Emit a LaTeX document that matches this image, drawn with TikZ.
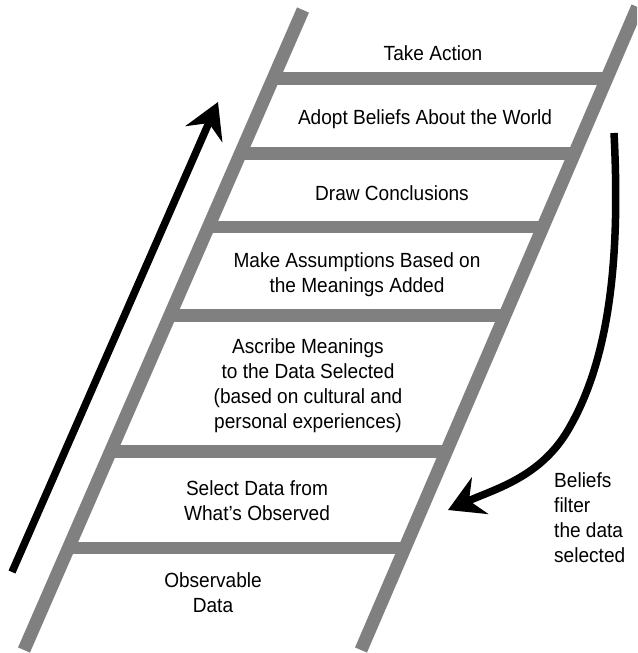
\documentclass[tikz,border=0pt]{standalone}
\usepackage{fontspec}
\newfontfamily\ladderfont{Liberation Sans}[FakeStretch=0.93]
\usetikzlibrary{arrows.meta, calc}

\definecolor{railgray}{RGB}{128,128,128}

\tikzset{
  rail/.style={draw=railgray, line width=13pt},
  rung/.style={draw=railgray, line width=12.5pt},
  step text/.style={font=\ladderfont\fontsize{20.5}{25}\selectfont, align=center, anchor=north, inner sep=0pt},
  climb/.style={line width=7.5pt, -{Stealth[length=35pt, width=40pt, inset=12pt]}}
}

\begin{document}
\begin{tikzpicture}[x=1pt, y=-1pt]
  \useasboundingbox (0,0) rectangle (637,653);
  \clip (0,0) rectangle (637,653);

  % ladder
  \coordinate (lb) at (24,650);
  \coordinate (lt) at (303,10);
  \coordinate (rb) at (361,650);
  \coordinate (rt) at (637.5,7);
  \foreach \y in {78.5,153.5,227,315.5,451.5,548}
    \draw[rung] ({24+0.436*(650-\y)},\y) -- ({361+0.43*(650-\y)},\y);
  \draw[rail] (lb) -- (lt);
  \draw[rail] (rb) -- (rt);

  % rungs of the ladder of inference
  \node[step text] (action) at (433,45) {Take Action};
  \node[step text] (beliefs) at (425,109) {Adopt Beliefs About the World};
  \node[step text] (conclusions) at (392,185) {Draw Conclusions};
  \node[step text] (assumptions) at (357,252) {Make Assumptions Based on\\the Meanings Added};
  \node[step text] (meanings) at (308,338) {Ascribe Meanings\\to the Data Selected\\(based on cultural and\\personal experiences)};
  \node[step text] (select) at (257,480) {Select Data from\\What’s Observed};
  \node[step text] (observable) at (213,572) {Observable\\Data};
  \node[step text, align=left, anchor=north west] (filter) at (554,472) {Beliefs\\filter\\the data\\selected};

  % arrows
  \coordinate (up start) at (12,572);
  \coordinate (up end) at (218,102);
  \draw[climb] (up start) -- (up end);

  \coordinate (loop start) at (614,133);
  \coordinate (loop mid) at (565,435);
  \coordinate (loop end) at (448,510);
  \draw[climb] (loop start) .. controls (620,250) and (612,360) .. (loop mid)
    .. controls (537,478) and (495,489) .. (loop end);
\end{tikzpicture}
\end{document}
